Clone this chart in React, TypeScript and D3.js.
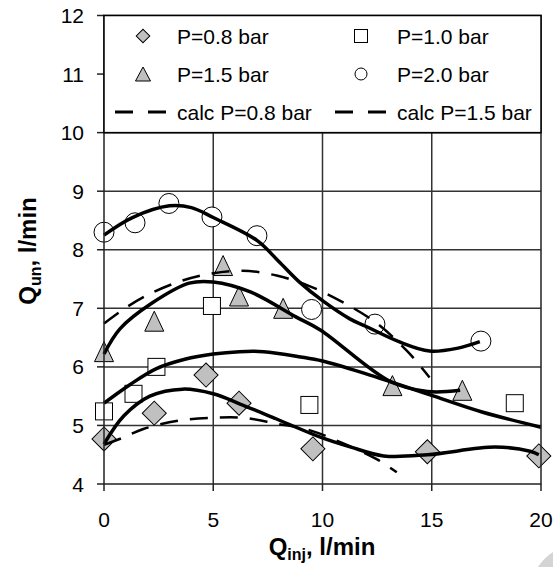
import React, { useEffect, useRef } from 'react';
import * as d3 from 'd3';

// measured points [Qinj, Qun]
const p08 = [[0, 4.77], [2.3, 5.21], [4.67, 5.86], [6.18, 5.38], [9.56, 4.6], [14.8, 4.55], [19.9, 4.48]];
const p10 = [[0, 5.24], [1.35, 5.54], [2.4, 6.0], [4.94, 7.04], [9.4, 5.35], [18.8, 5.38]];
const p15 = [[0, 6.26], [2.3, 6.78], [5.45, 7.73], [6.18, 7.21], [8.2, 7.0], [13.2, 5.68], [16.4, 5.6]];
const p20 = [[0, 8.3], [1.42, 8.46], [2.97, 8.79], [4.94, 8.56], [7.0, 8.24], [9.5, 6.98], [12.4, 6.73], [17.25, 6.44]];

// fitted curves (solid)
const fit08 = [[0, 4.68], [0.9, 5.16], [2.1, 5.5], [3.6, 5.62], [5, 5.54], [6.2, 5.37], [7.9, 5.11], [9.9, 4.8], [11.3, 4.63], [12.8, 4.48], [14.8, 4.5], [17.9, 4.63], [19.5, 4.56], [19.9, 4.5]];
const fit10 = [[0, 5.38], [1.2, 5.7], [2.4, 5.97], [3.7, 6.13], [5, 6.22], [6.2, 6.26], [7.3, 6.26], [9, 6.17], [10, 6.1], [12, 5.88], [15.1, 5.5], [17.3, 5.23], [20, 4.97]];
const fit15 = [[0, 6.22], [0.73, 6.65], [2.2, 7.09], [3.9, 7.43], [5, 7.45], [6.7, 7.28], [8.8, 6.85], [9.9, 6.63], [13.1, 5.75], [14.8, 5.58], [16.3, 5.6]];
const fit20 = [[0, 8.25], [1.3, 8.55], [3, 8.75], [4, 8.72], [5, 8.55], [7, 8.16], [8, 7.8], [9, 7.43], [10, 7.13], [11.25, 6.82], [12, 6.69], [13.5, 6.43], [14.9, 6.27], [16.2, 6.32], [17.2, 6.43]];

// calculated curves (dashed)
const calc08 = [[0, 4.67], [0.8, 4.78], [1.8, 4.94], [3.4, 5.08], [4.95, 5.13], [6.4, 5.13], [7.9, 5.03], [9.4, 4.92], [10.9, 4.7], [12.5, 4.42], [13.4, 4.2]];
const calc15 = [[0, 6.74], [0.8, 6.96], [1.9, 7.21], [3.4, 7.45], [4.85, 7.59], [6.35, 7.64], [7.9, 7.56], [9.4, 7.38], [10.9, 7.11], [12.5, 6.74], [13.9, 6.26], [14.9, 5.82]];

const xTicks = [0, 5, 10, 15, 20];
const yTicks = [4, 5, 6, 7, 8, 9, 10, 11, 12];
const legendLabels = ['P=0.8 bar', 'P=1.0 bar', 'P=1.5 bar', 'P=2.0 bar', 'calc P=0.8 bar', 'calc P=1.5 bar'];

const FONT = 'Liberation Sans, Arial, sans-serif';

function App() {
  const ref = useRef<SVGSVGElement>(null);

  useEffect(() => {
    const svg = d3.select(ref.current);
    svg.selectAll('*').remove();

    const x = d3.scaleLinear().domain([0, 20]).range([104, 541]);
    const y = d3.scaleLinear().domain([4, 12]).range([484, 15.5]);

    // grid
    svg.append('g').selectAll('line.v')
      .data(xTicks.slice(1, -1))
      .join('line')
      .attr('x1', d => x(d)).attr('x2', d => x(d))
      .attr('y1', y(4)).attr('y2', y(12))
      .attr('stroke', '#333').attr('stroke-width', 1.5);
    svg.append('g').selectAll('line.h')
      .data(yTicks.slice(1, -1))
      .join('line')
      .attr('x1', x(0)).attr('x2', x(20))
      .attr('y1', d => y(d)).attr('y2', d => y(d))
      .attr('stroke', '#333').attr('stroke-width', 1.5);

    // ticks
    svg.append('g').selectAll('line')
      .data(yTicks)
      .join('line')
      .attr('x1', x(0) - 7).attr('x2', x(0))
      .attr('y1', d => y(d)).attr('y2', d => y(d))
      .attr('stroke', '#222').attr('stroke-width', 1.5);
    svg.append('g').selectAll('line')
      .data(xTicks)
      .join('line')
      .attr('x1', d => x(d)).attr('x2', d => x(d))
      .attr('y1', y(4)).attr('y2', y(4) + 7)
      .attr('stroke', '#222').attr('stroke-width', 1.5);

    svg.append('g').selectAll('text')
      .data(yTicks)
      .join('text')
      .attr('x', 84).attr('y', d => y(d)).attr('dy', '0.36em')
      .attr('text-anchor', 'end')
      .attr('font-family', FONT).attr('font-size', 21)
      .text(d => d);
    svg.append('g').selectAll('text')
      .data(xTicks)
      .join('text')
      .attr('x', d => x(d)).attr('y', 527)
      .attr('text-anchor', 'middle')
      .attr('font-family', FONT).attr('font-size', 21)
      .text(d => d);

    // markers
    const diamond = (g, size) => g.append('rect')
      .attr('x', -size).attr('y', -size).attr('width', size * 2).attr('height', size * 2)
      .attr('transform', 'rotate(45)')
      .attr('fill', '#c0c0c0').attr('stroke', '#000').attr('stroke-width', 1);
    const square = (g, size) => g.append('rect')
      .attr('x', -size).attr('y', -size).attr('width', size * 2).attr('height', size * 2)
      .attr('fill', '#fff').attr('stroke', '#000').attr('stroke-width', 1);
    const triangle = (g, w, h) => g.append('path')
      .attr('d', `M0,${-h / 2}L${w / 2},${h / 2}L${-w / 2},${h / 2}Z`)
      .attr('fill', '#c0c0c0').attr('stroke', '#000').attr('stroke-width', 1);
    const circle = (g, r) => g.append('circle')
      .attr('r', r).attr('fill', '#fff').attr('stroke', '#000').attr('stroke-width', 1);

    const marks = svg.append('g');
    p08.forEach(d => diamond(marks.append('g').attr('transform', `translate(${x(d[0])},${y(d[1])})`), 8.5));
    p10.forEach(d => square(marks.append('g').attr('transform', `translate(${x(d[0])},${y(d[1])})`), 8.5));
    p15.forEach(d => triangle(marks.append('g').attr('transform', `translate(${x(d[0])},${y(d[1])})`), 19, 20));
    p20.forEach(d => circle(marks.append('g').attr('transform', `translate(${x(d[0])},${y(d[1])})`), 10));

    // curves
    const line = d3.line().x(d => x(d[0])).y(d => y(d[1])).curve(d3.curveCatmullRom.alpha(0.5));
    [calc08, calc15].forEach(c => svg.append('path')
      .attr('d', line(c)).attr('fill', 'none')
      .attr('stroke', '#000').attr('stroke-width', 2.5).attr('stroke-dasharray', '18,12'));
    [fit08, fit10, fit15, fit20].forEach(c => svg.append('path')
      .attr('d', line(c)).attr('fill', 'none')
      .attr('stroke', '#000').attr('stroke-width', 3.5).attr('stroke-linejoin', 'round'));

    // plot border
    svg.append('rect')
      .attr('x', x(0)).attr('y', y(12)).attr('width', x(20) - x(0)).attr('height', y(4) - y(12))
      .attr('fill', 'none').attr('stroke', '#222').attr('stroke-width', 1.5);

    // legend
    const lg = svg.append('g');
    lg.append('rect')
      .attr('x', x(0)).attr('y', y(12)).attr('width', x(20) - x(0)).attr('height', y(10) - y(12))
      .attr('fill', '#fff').attr('stroke', '#000').attr('stroke-width', 1.5);
    const rows = [36, 74, 112];
    const colMark = [143, 361];
    const colText = [177, 397];
    diamond(lg.append('g').attr('transform', `translate(${colMark[0]},${rows[0]})`), 4.8);
    square(lg.append('g').attr('transform', `translate(${colMark[1]},${rows[0]})`), 6.5);
    triangle(lg.append('g').attr('transform', `translate(${colMark[0]},${rows[1]})`), 15, 14);
    circle(lg.append('g').attr('transform', `translate(${colMark[1]},${rows[1]})`), 6);
    [[115, 168], [335, 387]].forEach(([a, b]) => lg.append('line')
      .attr('x1', a).attr('x2', b).attr('y1', rows[2]).attr('y2', rows[2])
      .attr('stroke', '#000').attr('stroke-width', 3).attr('stroke-dasharray', '18,15'));
    lg.selectAll('text')
      .data(legendLabels)
      .join('text')
      .attr('x', (d, i) => colText[i % 2])
      .attr('y', (d, i) => rows[Math.floor(i / 2)])
      .attr('dy', '0.36em')
      .attr('font-family', FONT).attr('font-size', 21)
      .text(d => d);

    // axis titles
    const xt = svg.append('text')
      .attr('x', 322).attr('y', 555)
      .attr('text-anchor', 'middle')
      .attr('font-family', FONT).attr('font-weight', 'bold').attr('font-size', 24);
    xt.append('tspan').text('Q');
    xt.append('tspan').attr('font-size', 16).attr('dy', 5).text('inj');
    xt.append('tspan').attr('dy', -5).text(', l/min');

    const yt = svg.append('text')
      .attr('transform', 'translate(36,251) rotate(-90)')
      .attr('text-anchor', 'middle')
      .attr('font-family', FONT).attr('font-weight', 'bold').attr('font-size', 24);
    yt.append('tspan').text('Q');
    yt.append('tspan').attr('font-size', 16).attr('dy', 5).text('un');
    yt.append('tspan').attr('dy', -5).text(', l/min');

    // grey corner mark
    svg.append('circle')
      .attr('cx', 580).attr('cy', 594).attr('r', 50)
      .attr('fill', '#d4d4d4');
  }, []);

  return (
    <svg ref={ref} width={553} height={567}
      style={{ position: 'absolute', left: 0, top: 0, background: '#fff' }} />
  );
}

export default App;
